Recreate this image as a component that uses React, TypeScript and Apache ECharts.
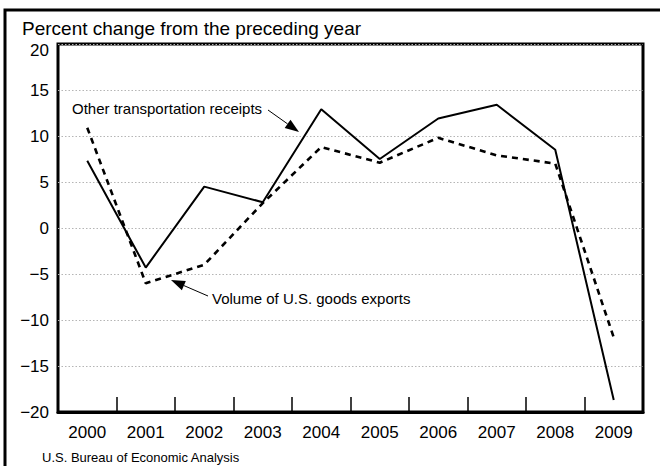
import React, { useEffect, useRef } from "react";
import * as echarts from "echarts";

const years = ["2000", "2001", "2002", "2003", "2004", "2005", "2006", "2007", "2008", "2009"];
const transportReceipts = [7.3, -4.3, 4.5, 2.8, 12.9, 7.5, 11.9, 13.4, 8.5, -18.7];
const goodsExportsVolume = [10.9, -6.0, -4.0, 2.7, 8.8, 7.1, 9.8, 7.9, 7.0, -11.9];

const yMin = -20;
const yMax = 20;
const yStep = 5;

const FONT = "'Liberation Sans', Arial, Helvetica, sans-serif";

const fmt = (v: number) => String(v).replace("-", "\u2212");

function arrow(sx: number, sy: number, tx: number, ty: number, head = 14, half = 5) {
  const dx = tx - sx;
  const dy = ty - sy;
  const len = Math.sqrt(dx * dx + dy * dy);
  const ux = dx / len;
  const uy = dy / len;
  const bx = tx - head * ux;
  const by = ty - head * uy;
  const nx = -uy;
  const ny = ux;
  return [
    {
      type: "line",
      shape: { x1: sx, y1: sy, x2: bx, y2: by },
      style: { stroke: "#000", lineWidth: 1 },
      silent: true,
    },
    {
      type: "polygon",
      shape: {
        points: [
          [tx, ty],
          [bx + half * nx, by + half * ny],
          [bx - half * nx, by - half * ny],
        ],
      },
      style: { fill: "#000" },
      silent: true,
    },
  ];
}

export default function App() {
  const ref = useRef<HTMLDivElement>(null);

  useEffect(() => {
    if (!ref.current) return;
    const chart = echarts.init(ref.current, null, { renderer: "svg" });
    const option: any = {
      animation: false,
      backgroundColor: "#fff",
      textStyle: { fontFamily: FONT },
      grid: {
        left: 58,
        right: 17,
        top: 44,
        bottom: 54,
        show: true,
        borderColor: "#000",
        borderWidth: 3,
        backgroundColor: "transparent",
      },
      xAxis: {
        type: "category",
        data: years,
        boundaryGap: true,
        axisLine: { show: true, onZero: false, lineStyle: { color: "#000", width: 3 } },
        axisTick: {
          show: true,
          inside: true,
          length: 15,
          interval: 0,
          lineStyle: { color: "#000", width: 1.5 },
        },
        axisLabel: {
          color: "#000",
          fontSize: 17,
          fontFamily: FONT,
          margin: 12,
          interval: 0,
        },
        splitLine: { show: false },
      },
      yAxis: {
        type: "value",
        min: yMin,
        max: yMax,
        interval: yStep,
        axisLine: { show: false },
        axisTick: { show: false },
        axisLabel: {
          color: "#000",
          fontSize: 17,
          fontFamily: FONT,
          margin: 9,
          showMaxLabel: false,
          formatter: (v: number) => (v === yMax ? "" : fmt(v)),
        },
        splitLine: {
          show: true,
          lineStyle: { color: "#b5b5b5", type: [1.5, 2], width: 1 },
        },
      },
      series: [
        {
          name: "Other transportation receipts",
          type: "line",
          data: transportReceipts,
          symbol: "none",
          lineStyle: { color: "#000", width: 2 },
          z: 3,
        },
        {
          name: "Volume of U.S. goods exports",
          type: "line",
          data: goodsExportsVolume,
          symbol: "none",
          lineStyle: { color: "#000", width: 2.6, type: [6, 5] },
          z: 3,
        },
      ],
      graphic: [
        // outer frame (cut off at right and bottom)
        {
          type: "polyline",
          shape: { points: [[5, 470], [5, 10], [665, 10]] },
          style: { stroke: "#000", lineWidth: 3, fill: "none" },
          silent: true,
        },
        {
          type: "text",
          x: 22,
          y: 28,
          style: {
            text: "Percent change from the preceding year",
            fontSize: 19,
            fontFamily: FONT,
            fill: "#000",
            verticalAlign: "middle",
          },
        },
        {
          type: "text",
          x: 49,
          y: 50,
          style: {
            text: fmt(yMax),
            fontSize: 17,
            fontFamily: FONT,
            fill: "#000",
            align: "right",
            verticalAlign: "middle",
          },
        },
        {
          type: "text",
          x: 72,
          y: 108,
          style: {
            text: "Other transportation receipts",
            fontSize: 15,
            fontFamily: FONT,
            fill: "#000",
            verticalAlign: "middle",
          },
        },
        ...arrow(268, 110, 299, 132),
        {
          type: "text",
          x: 212,
          y: 298,
          style: {
            text: "Volume of U.S. goods exports",
            fontSize: 15,
            fontFamily: FONT,
            fill: "#000",
            verticalAlign: "middle",
          },
        },
        ...arrow(208, 296, 171, 280),
        {
          type: "text",
          x: 42,
          y: 457,
          style: {
            text: "U.S. Bureau of Economic Analysis",
            fontSize: 13,
            fontFamily: FONT,
            fill: "#000",
            verticalAlign: "middle",
          },
        },
      ],
    };
    chart.setOption(option);
    return () => chart.dispose();
  }, []);

  return <div ref={ref} style={{ width: 660, height: 466, position: "absolute", left: 0, top: 0 }} />;
}
